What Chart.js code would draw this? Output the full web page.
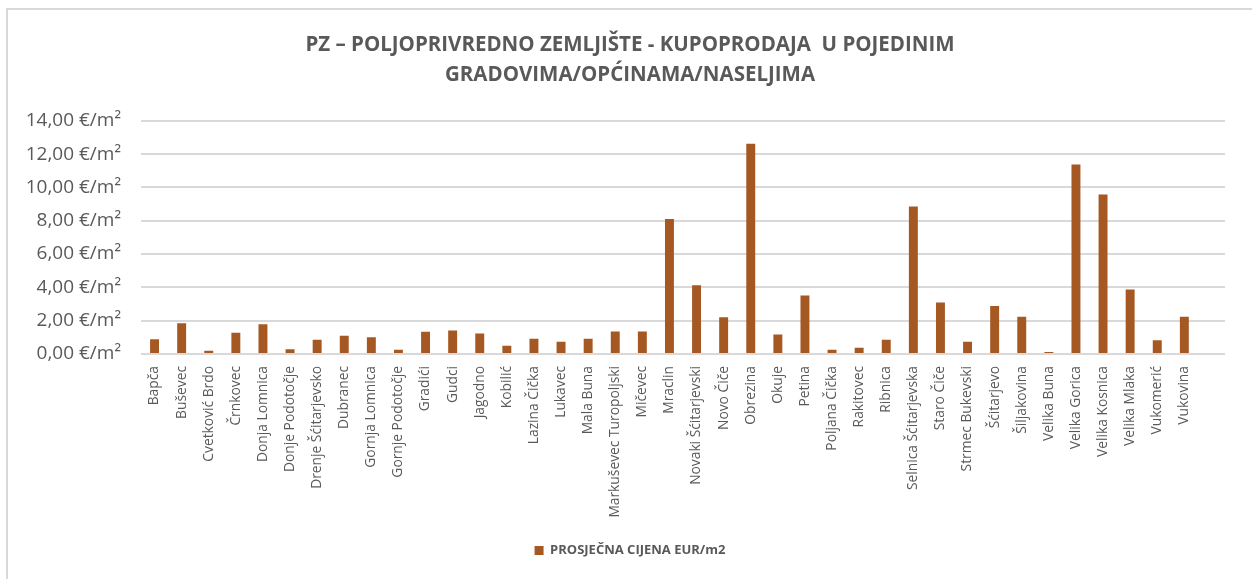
<!DOCTYPE html>
<html>
<head>
<meta charset="utf-8">
<script src="https://cdn.jsdelivr.net/npm/chart.js@4"></script>
<style>
    html, body { margin: 0; padding: 0; background: #fff; }
    #wrap { position: relative; width: 1252px; height: 579px; }
    #frame {
        position: absolute; left: 6px; top: 8px; right: 0; bottom: 0;
        border-left: 2px solid #d9d9d9; border-top: 2px solid #d9d9d9;
        pointer-events: none;
    }
</style>
</head>
<body>
<div id="wrap">
    <canvas id="chart" width="1252" height="579"></canvas>
    <div id="frame"></div>
</div>
<script>
const chartTitle = ['PZ – POLJOPRIVREDNO ZEMLJIŠTE - KUPOPRODAJA  U POJEDINIM', 'GRADOVIMA/OPĆINAMA/NASELJIMA'];
const seriesName = 'PROSJEČNA CIJENA EUR/m2';

const places = [
    'Bapča', 'Buševec', 'Cvetković Brdo', 'Črnkovec', 'Donja Lomnica',
    'Donje Podotočje', 'Drenje Šćitarjevsko', 'Dubranec', 'Gornja Lomnica', 'Gornje Podotočje',
    'Gradići', 'Gudci', 'Jagodno', 'Kobilić', 'Lazina Čička',
    'Lukavec', 'Mala Buna', 'Markuševec Turopoljski', 'Mičevec', 'Mraclin',
    'Novaki Šćitarjevski', 'Novo Čiče', 'Obrezina', 'Okuje', 'Petina',
    'Poljana Čička', 'Rakitovec', 'Ribnica', 'Selnica Šćitarjevska', 'Staro Čiče',
    'Strmec Bukevski', 'Šćitarjevo', 'Šiljakovina', 'Velika Buna', 'Velika Gorica',
    'Velika Kosnica', 'Velika Mlaka', 'Vukomerić', 'Vukovina'
];

const prices = [
    0.88, 1.85, 0.20, 1.27, 1.79,
    0.28, 0.85, 1.09, 1.00, 0.26,
    1.33, 1.41, 1.23, 0.50, 0.92,
    0.74, 0.92, 1.35, 1.35, 8.10,
    4.13, 2.21, 12.63, 1.17, 3.52,
    0.26, 0.38, 0.86, 8.86, 3.10,
    0.74, 2.88, 2.23, 0.12, 11.38,
    9.58, 3.88, 0.82, 2.23
];

const yTicks = [0, 2, 4, 6, 8, 10, 12, 14];

const textColor = '#595959';
const barColor = '#a65823';
const fontFamily = '"Open Sans", sans-serif';

// prazna kategorija na kraju, kao u Excelu
const labels = places.concat(['']);

const ctx = document.getElementById('chart').getContext('2d');
new Chart(ctx, {
    type: 'bar',
    data: {
        labels: labels,
        datasets: [{
            label: seriesName,
            data: prices,
            backgroundColor: barColor,
            borderWidth: 0,
            categoryPercentage: 1,
            barPercentage: 0.33
        }]
    },
    options: {
        responsive: false,
        animation: false,
        layout: {
            padding: { top: 10, right: 0, bottom: 12, left: 8 }
        },
        plugins: {
            title: {
                display: true,
                text: chartTitle,
                color: textColor,
                font: { family: fontFamily, size: 20.5, weight: 'bold', lineHeight: 1.46 },
                padding: { top: 20, bottom: 31 }
            },
            legend: {
                position: 'bottom',
                labels: {
                    color: textColor,
                    font: { family: fontFamily, size: 13, weight: 'bold' },
                    boxWidth: 9,
                    boxHeight: 9,
                    padding: 10
                }
            },
            tooltip: { enabled: false }
        },
        scales: {
            x: {
                grid: { display: false },
                border: { display: false },
                ticks: {
                    color: textColor,
                    font: { family: fontFamily, size: 13.8 },
                    maxRotation: 90,
                    minRotation: 90,
                    autoSkip: false,
                    padding: 4
                },
                afterFit: axis => { axis.height = 180; }
            },
            y: {
                min: 0,
                max: 14,
                afterBuildTicks: axis => { axis.ticks = yTicks.map(v => ({ value: v })); },
                grid: { color: '#d9d9d9', lineWidth: 2, drawTicks: false },
                border: { display: false },
                ticks: {
                    color: textColor,
                    font: { family: fontFamily, size: 19 },
                    padding: 20,
                    callback: v => v.toFixed(2).replace('.', ',') + ' €/m²'
                },
                afterFit: axis => { axis.width = 133; }
            },
            // prazan prostor desno od crteža
            yRight: {
                position: 'right',
                min: 0,
                max: 14,
                grid: { display: false },
                border: { display: false },
                ticks: { display: false },
                afterFit: axis => { axis.width = 27; }
            }
        }
    }
});
</script>
</body>
</html>
